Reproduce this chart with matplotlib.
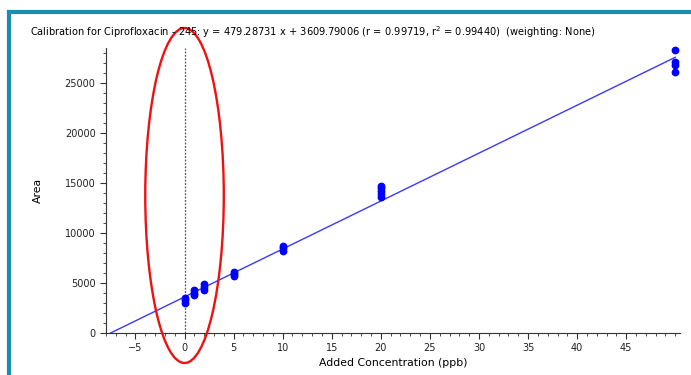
import matplotlib.pyplot as plt
import numpy as np
from matplotlib.patches import Ellipse
from matplotlib.lines import Line2D
from matplotlib.ticker import MultipleLocator

# Calibration points (added concentration, area)
conc = [0, 0, 0, 1, 1, 1, 2, 2, 2, 5, 5, 5, 10, 10, 10,
        20, 20, 20, 20, 20, 50, 50, 50, 50]
area = [3050, 3300, 3550, 3800, 4050, 4300, 4350, 4600, 4900,
        5750, 5950, 6150, 8250, 8500, 8750,
        13650, 13950, 14200, 14500, 14750, 26100, 26800, 27100, 28350]

x_ticks = [-5, 0, 5, 10, 15, 20, 25, 30, 35, 40, 45]

slope = 479.28731
intercept = 3609.79006
x_start = -intercept / slope
x_end = 50

title = ("Calibration for Ciprofloxacin - 245: y = 479.28731 x + 3609.79006 "
         "(r = 0.99719, r$^2$ = 0.99440)  (weighting: None)")

plt.rcParams['font.family'] = ['DejaVu Sans']

fig = plt.figure(figsize=(6.91, 3.75), dpi=100)
ax = fig.add_axes([0.1534, 0.112, 0.831, 0.760])

# Fit line
fx = np.array([x_start, x_end])
ax.plot(fx, slope * fx + intercept, color='#3a3aff', lw=1, zorder=2)

# Points
ax.plot(conc, area, 'o', color='#0000ff', ms=4.6, clip_on=False, zorder=3)

# Dotted line at x = 0
ax.axvline(0, color='#555555', lw=0.9, ls=(0, (1.5, 1.2)), zorder=1)

ax.set_xlim(-8, 50.5)
ax.set_ylim(0, 28500)
ax.set_xticks(x_ticks)
ax.xaxis.set_minor_locator(MultipleLocator(1))
ax.yaxis.set_major_locator(MultipleLocator(5000))
ax.yaxis.set_minor_locator(MultipleLocator(1000))
ax.tick_params(which='major', length=4, labelsize=7, color='#333333',
               labelcolor='#222222')
ax.tick_params(which='minor', length=2, color='#333333')
for s in ['top', 'right']:
    ax.spines[s].set_visible(False)
for s in ['left', 'bottom']:
    ax.spines[s].set_color('#333333')

ax.set_xlabel('Added Concentration (ppb)', fontsize=7.8, labelpad=3)
ax.set_ylabel('Area', fontsize=7.8)
ax.yaxis.set_label_coords(-0.11, 0.5)

fig.text(30 / 691, 1 - 32 / 375, title, fontsize=7.1, ha='left', va='center')

# Red ellipse annotation
ell = Ellipse((0, 13750), width=8.0, height=33500, fill=False,
              edgecolor='#ee1111', lw=1.7, clip_on=False, zorder=4)
ax.add_patch(ell)

# Teal frame of the screenshot
teal = '#1a8db3'
fig.add_artist(Line2D([9 / 691, 9 / 691], [0, 1 - 12 / 375],
                      transform=fig.transFigure, color=teal, lw=3))
fig.add_artist(Line2D([9 / 691, 1], [1 - 12 / 375, 1 - 12 / 375],
                      transform=fig.transFigure, color=teal, lw=3))

fig.savefig('out.png', dpi=100)
